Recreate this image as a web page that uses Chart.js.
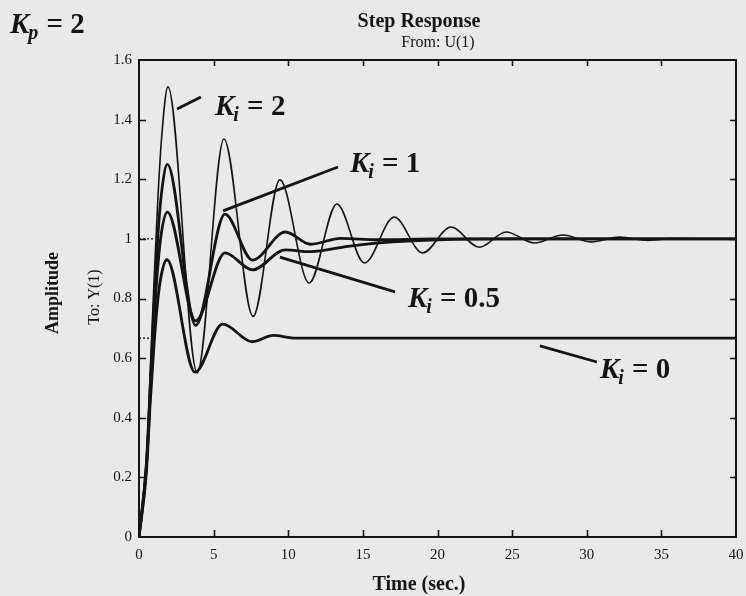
<!DOCTYPE html>
<html>
<head>
<meta charset="utf-8">
<script src="https://cdn.jsdelivr.net/npm/chart.js@4/dist/chart.umd.min.js"></script>
<style>
  html, body { margin: 0; padding: 0; background: #e9e9e9; }
  canvas { display: block; }
</style>
</head>
<body>
<canvas id="c" width="746" height="596"></canvas>
<script>
// ---- data ----
const xTicks = [0, 5, 10, 15, 20, 25, 30, 35, 40];
const yTicks = [0, 0.2, 0.4, 0.6, 0.8, 1, 1.2, 1.4, 1.6];

const ki2T = [0, 0.5, 0.75, 1.0, 1.25, 1.5, 1.94, 3.9, 5.69, 7.64, 9.44, 11.4, 13.26, 15.1, 17.1, 19.0, 20.9, 22.8, 24.6, 26.5, 28.4, 30.3, 32.2, 34.1, 36.0, 38.0, 40.0];
const ki2Y = [0, 0.26, 0.55, 0.85, 1.12, 1.33, 1.51, 0.55, 1.335, 0.74, 1.198, 0.852, 1.117, 0.919, 1.073, 0.953, 1.04, 0.972, 1.023, 0.986, 1.013, 0.99, 1.006, 0.995, 1.002, 0.999, 1.0];

const ki1T = [0, 0.5, 0.75, 1.0, 1.25, 1.5, 1.9, 3.8, 5.76, 7.6, 9.8, 11.5, 13.5, 16, 20, 40];
const ki1Y = [0, 0.25, 0.5, 0.77, 1.0, 1.15, 1.25, 0.71, 1.083, 0.929, 1.023, 0.982, 1.002, 0.997, 1.0, 1.0];

const ki05T = [0, 0.5, 0.75, 1.0, 1.25, 1.5, 1.9, 3.8, 5.76, 7.6, 9.8, 11.5, 14, 17, 20, 25, 40];
const ki05Y = [0, 0.24, 0.48, 0.72, 0.9, 1.02, 1.09, 0.725, 0.953, 0.896, 0.963, 0.957, 0.975, 0.99, 0.997, 1.0, 1.0];

const ki0T = [0, 0.5, 0.75, 1.0, 1.25, 1.5, 1.87, 3.75, 5.6, 7.6, 9.0, 10.5, 40];
const ki0Y = [0, 0.22, 0.45, 0.64, 0.79, 0.88, 0.93, 0.553, 0.714, 0.655, 0.676, 0.667, 0.667];

const finalT = [0, 1.0];
const finalOne = [1, 1];
const finalTwoThirds = [0.667, 0.667];

// curve label anchors and leader lines, in data units
const labelNames = ['2', '1', '0.5', '0'];
const labelT = [5.09, 14.13, 18.02, 30.88];
const labelV = [1.416, 1.224, 0.772, 0.533];
const leaderT0 = [2.55, 5.63, 9.44, 26.86];
const leaderV0 = [1.436, 1.094, 0.939, 0.641];
const leaderT1 = [4.15, 13.33, 17.15, 30.68];
const leaderV1 = [1.476, 1.241, 0.822, 0.587];

const pts = (t, y) => t.map((v, i) => ({ x: v, y: y[i] }));
const INK = '#141414';
const SERIF = "'Liberation Serif', 'Times New Roman', serif";

function drawK(ctx, x, y, sub, rest, size) {
  ctx.save();
  ctx.fillStyle = INK;
  ctx.textBaseline = 'alphabetic';
  ctx.textAlign = 'left';
  ctx.font = `bold italic ${size}px ${SERIF}`;
  ctx.fillText('K', x, y);
  let w = ctx.measureText('K').width;
  ctx.font = `bold italic ${Math.round(size * 0.68)}px ${SERIF}`;
  ctx.fillText(sub, x + w - 1, y + size * 0.22);
  w += ctx.measureText(sub).width;
  ctx.font = `bold ${size}px ${SERIF}`;
  ctx.fillText(' = ' + rest, x + w, y);
  ctx.restore();
}

const decor = {
  id: 'decor',
  beforeDraw(chart) {
    const ctx = chart.ctx;
    ctx.save();
    ctx.fillStyle = '#e9e9e9';
    ctx.fillRect(0, 0, chart.width, chart.height);
    ctx.restore();
  },
  afterDraw(chart) {
    const ctx = chart.ctx;
    const a = chart.chartArea;
    const xs = chart.scales.x, ys = chart.scales.y;
    ctx.save();
    ctx.strokeStyle = INK;
    ctx.lineWidth = 2;
    ctx.strokeRect(a.left, a.top, a.right - a.left, a.bottom - a.top);
    ctx.lineWidth = 1.6;
    ctx.beginPath();
    xTicks.slice(1, -1).forEach(t => {
      const px = Math.round(xs.getPixelForValue(t)) + 0.5;
      ctx.moveTo(px, a.bottom); ctx.lineTo(px, a.bottom - 7);
      ctx.moveTo(px, a.top); ctx.lineTo(px, a.top + 6);
    });
    yTicks.slice(1, -1).forEach(v => {
      const py = Math.round(ys.getPixelForValue(v)) + 0.5;
      ctx.moveTo(a.left, py); ctx.lineTo(a.left + 7, py);
      ctx.moveTo(a.right, py); ctx.lineTo(a.right - 6, py);
    });
    ctx.stroke();

    // titles
    ctx.fillStyle = INK;
    ctx.textAlign = 'center';
    ctx.textBaseline = 'alphabetic';
    ctx.font = `bold 20px ${SERIF}`;
    ctx.fillText('Step Response', 419, 27);
    ctx.font = `16px ${SERIF}`;
    ctx.fillText('From: U(1)', 438, 47);
    ctx.font = `bold 20px ${SERIF}`;
    ctx.fillText('Time (sec.)', 419, 590);

    ctx.save();
    ctx.translate(58, 293);
    ctx.rotate(-Math.PI / 2);
    ctx.font = `bold 18px ${SERIF}`;
    ctx.fillText('Amplitude', 0, 0);
    ctx.restore();
    ctx.save();
    ctx.translate(99, 297);
    ctx.rotate(-Math.PI / 2);
    ctx.font = `16px ${SERIF}`;
    ctx.fillText('To: Y(1)', 0, 0);
    ctx.restore();

    drawK(ctx, 10, 33, 'p', '2', 29);

    // curve labels with leader lines
    ctx.lineWidth = 2.8;
    labelNames.forEach((n, i) => {
      ctx.beginPath();
      ctx.moveTo(xs.getPixelForValue(leaderT0[i]), ys.getPixelForValue(leaderV0[i]));
      ctx.lineTo(xs.getPixelForValue(leaderT1[i]), ys.getPixelForValue(leaderV1[i]));
      ctx.stroke();
      drawK(ctx, xs.getPixelForValue(labelT[i]), ys.getPixelForValue(labelV[i]), 'i', n, 29);
    });
    ctx.restore();
  }
};

const thick = { borderColor: INK, borderWidth: 2.8, pointRadius: 0, cubicInterpolationMode: 'monotone', fill: false };

const chart = new Chart(document.getElementById('c'), {
  type: 'line',
  data: {
    datasets: [
      { label: 'Ki = 0', data: pts(ki0T, ki0Y), ...thick },
      { label: 'Ki = 0.5', data: pts(ki05T, ki05Y), ...thick },
      { label: 'Ki = 1', data: pts(ki1T, ki1Y), ...thick },
      { label: 'Ki = 2', data: pts(ki2T, ki2Y), ...thick, borderWidth: 1.6 },
      { label: 'final 1', data: pts(finalT, finalOne), borderColor: INK, borderWidth: 1.3, borderDash: [2, 2], pointRadius: 0 },
      { label: 'final 2/3', data: pts(finalT, finalTwoThirds), borderColor: INK, borderWidth: 1.3, borderDash: [2, 2], pointRadius: 0 }
    ]
  },
  options: {
    responsive: false,
    animation: false,
    devicePixelRatio: 1,
    layout: { padding: { top: 60, right: 0, left: 0, bottom: 0 } },
    plugins: { legend: { display: false }, tooltip: { enabled: false } },
    scales: {
      x: {
        type: 'linear', min: 0, max: 40,
        afterBuildTicks: s => { s.ticks = xTicks.map(v => ({ value: v })); },
        ticks: { color: INK, font: { family: SERIF, size: 15 }, padding: 9, maxRotation: 0, autoSkip: false },
        grid: { display: false, drawTicks: false },
        border: { display: false },
        afterFit: s => { s.height = 59; s.paddingRight = 10; s.paddingLeft = 0; }
      },
      y: {
        type: 'linear', min: 0, max: 1.6,
        afterBuildTicks: s => { s.ticks = yTicks.map(v => ({ value: v })); },
        ticks: { color: INK, font: { family: SERIF, size: 15 }, padding: 7, autoSkip: false,
                 callback: v => String(Math.round(v * 10) / 10) },
        grid: { display: false, drawTicks: false },
        border: { display: false },
        afterFit: s => { s.width = 139; s.paddingTop = 0; s.paddingBottom = 0; }
      }
    }
  },
  plugins: [decor]
});
</script>
</body>
</html>
